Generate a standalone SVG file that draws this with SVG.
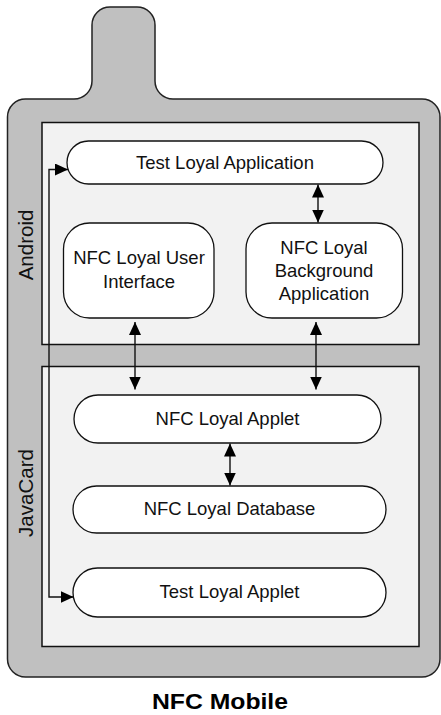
<svg xmlns="http://www.w3.org/2000/svg" width="441" height="715" viewBox="0 0 441 715">
<style>
.body{fill:#c0c0c0;stroke:#222;stroke-width:1.5}
.zone{fill:#f2f2f2;stroke:#111;stroke-width:1.5}
.node{fill:#fff;stroke:#111;stroke-width:1.3}
.t{font-family:"Liberation Sans",Arial,sans-serif;font-size:18.5px;fill:#111;text-anchor:middle}
.lab{font-family:"Liberation Sans",Arial,sans-serif;font-size:20.5px;fill:#111;text-anchor:middle}
.title{font-family:"Liberation Sans",Arial,sans-serif;font-size:22px;font-weight:bold;fill:#000;text-anchor:middle}
.c{fill:none;stroke:#111;stroke-width:1.4}
</style>
<defs>
<marker id="ah" viewBox="0 0 13 12" refX="13" refY="6" markerWidth="13" markerHeight="12" markerUnits="userSpaceOnUse" orient="auto-start-reverse">
<path d="M0,0 L13,6 L0,12 Z" fill="#000"/>
</marker>
</defs>
<g id="phone">
<path class="body" d="M7.5,117 A18,18 0 0 1 25.5,99 L74,99 A18,18 0 0 0 92,81 L92,25 A18,18 0 0 1 110,7 L137,7 A18,18 0 0 1 155,25 L155,81 A18,18 0 0 0 173,99 L422,99 A18,18 0 0 1 440,117 L440,659 A18,18 0 0 1 422,677 L25.5,677 A18,18 0 0 1 7.5,659 Z"/>
</g>
<g id="android">
<rect class="zone" x="42" y="122.5" width="377" height="222"/>
<text class="lab" transform="translate(33,245) rotate(-90)">Android</text>
</g>
<g id="javacard">
<rect class="zone" x="42" y="366.5" width="377" height="280"/>
<text class="lab" transform="translate(33,493) rotate(-90)">JavaCard</text>
</g>
<g id="test-loyal-application">
<rect class="node" x="67" y="141" width="316" height="43" rx="21.5"/>
<text class="t" x="225" y="169">Test Loyal Application</text>
</g>
<g id="nfc-loyal-user-interface">
<rect class="node" x="63.5" y="223" width="150.5" height="95" rx="26"/>
<text class="t" x="139" y="263.5">NFC Loyal User</text>
<text class="t" x="139" y="287.5">Interface</text>
</g>
<g id="nfc-loyal-background-application">
<rect class="node" x="246" y="223" width="156.5" height="95" rx="26"/>
<text class="t" x="324" y="253.5">NFC Loyal</text>
<text class="t" x="324" y="276.5">Background</text>
<text class="t" x="324" y="299.5">Application</text>
</g>
<g id="nfc-loyal-applet">
<rect class="node" x="74" y="395" width="307" height="48" rx="24"/>
<text class="t" x="227.5" y="424.5">NFC Loyal Applet</text>
</g>
<g id="nfc-loyal-database">
<rect class="node" x="73" y="486" width="313" height="47" rx="23.5"/>
<text class="t" x="229.5" y="514.5">NFC Loyal Database</text>
</g>
<g id="test-loyal-applet">
<rect class="node" x="73" y="568" width="313" height="49" rx="24.5"/>
<text class="t" x="229.5" y="598">Test Loyal Applet</text>
</g>
<g id="connectors">
<line class="c" x1="318" y1="184.5" x2="318" y2="222.5" marker-start="url(#ah)" marker-end="url(#ah)"/>
<line class="c" x1="135" y1="322" x2="135" y2="389.5" marker-start="url(#ah)" marker-end="url(#ah)"/>
<line class="c" x1="316" y1="322" x2="316" y2="389.5" marker-start="url(#ah)" marker-end="url(#ah)"/>
<line class="c" x1="230" y1="443.5" x2="230" y2="485.5" marker-start="url(#ah)" marker-end="url(#ah)"/>
<path class="c" d="M68,169.5 L49,169.5 L49,597 L73.5,597" marker-start="url(#ah)" marker-end="url(#ah)"/>
</g>
<text class="title" x="220" y="709" textLength="136" lengthAdjust="spacingAndGlyphs">NFC Mobile</text>
</svg>
